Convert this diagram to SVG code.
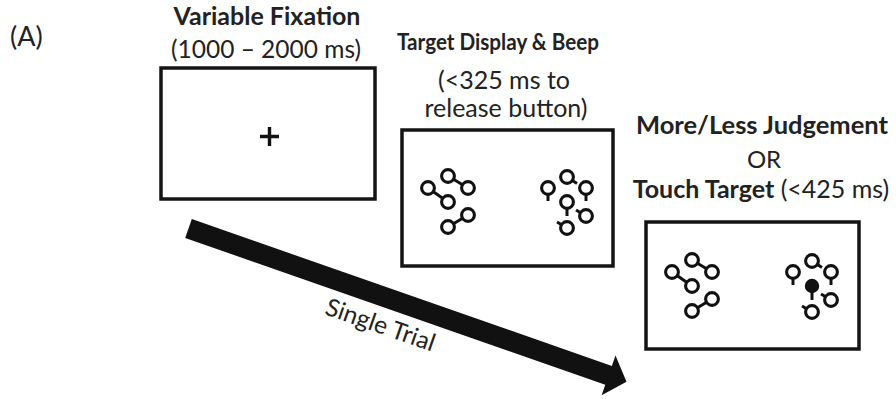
<svg xmlns="http://www.w3.org/2000/svg" xmlns:xlink="http://www.w3.org/1999/xlink" width="896" height="399" viewBox="0 0 896 399">
<style>
.box{fill:#fff;stroke:#141414;stroke-width:3.5}
.t{font-family:Lato,"Open Sans","Liberation Sans",sans-serif;font-size:25px;fill:#222;text-anchor:middle}
.b{font-weight:bold}
.c{fill:#fff;stroke:#111;stroke-width:3.1}
.l{stroke:#111;stroke-width:3;fill:none}
</style>
<defs>
<g id="leftCluster">
<line class="l" x1="-20" y1="12" x2="0" y2="26"/>
<line class="l" x1="0" y1="0" x2="20" y2="12"/>
<line class="l" x1="20" y1="39" x2="0" y2="51"/>
<circle class="c" cx="-20" cy="12" r="6.4"/>
<circle class="c" cx="0" cy="0" r="6.4"/>
<circle class="c" cx="20" cy="12" r="6.4"/>
<circle class="c" cx="0" cy="26" r="6.4"/>
<circle class="c" cx="20" cy="39" r="6.4"/>
<circle class="c" cx="0" cy="51" r="6.4"/>
</g>
<g id="rightStems">
<line class="l" x1="-19" y1="11" x2="-19" y2="24"/>
<line class="l" x1="0" y1="0" x2="10" y2="6.5"/>
<line class="l" x1="19" y1="11" x2="19" y2="24"/>
<line class="l" x1="0" y1="25" x2="0" y2="39"/>
<line class="l" x1="19" y1="39" x2="9" y2="33"/>
<line class="l" x1="0" y1="51" x2="-10" y2="45"/>
<circle class="c" cx="-19" cy="11" r="6.4"/>
<circle class="c" cx="0" cy="0" r="6.4"/>
<circle class="c" cx="19" cy="11" r="6.4"/>
<circle class="c" cx="19" cy="39" r="6.4"/>
<circle class="c" cx="0" cy="51" r="6.4"/>
</g>
</defs>

<text class="t" x="10" y="46" style="text-anchor:start;font-size:27px">(A)</text>

<g id="fixation">
<text class="t b" x="267" y="25">Variable Fixation</text>
<text class="t" x="266" y="58" style="font-size:24.5px">(1000 – 2000 ms)</text>
<rect class="box" x="161" y="68" width="214" height="131"/>
<path d="M260 136.5H279M269.5 127V146" stroke="#111" stroke-width="3.4" fill="none"/>
</g>

<g id="target-display">
<text class="t b" x="498" y="50" style="font-size:23.5px" textLength="202" lengthAdjust="spacingAndGlyphs">Target Display &amp; Beep</text>
<text class="t" x="504" y="89">(&lt;325 ms to</text>
<text class="t" x="506" y="117">release button)</text>
<rect class="box" x="402" y="130" width="211" height="136"/>
<use xlink:href="#leftCluster" x="448" y="176"/>
<use xlink:href="#rightStems" x="567" y="177"/>
<circle class="c" cx="567" cy="202" r="6.4"/>
</g>

<g id="judgement">
<text class="t b" x="762" y="134" style="font-size:25.5px">More/Less Judgement</text>
<text class="t" x="764" y="168" style="font-size:24px">OR</text>
<text class="t" x="761" y="198"><tspan font-weight="bold">Touch Target</tspan> (&lt;425 ms)</text>
<rect class="box" x="646" y="222" width="213" height="127"/>
<use xlink:href="#leftCluster" x="692" y="260"/>
<use xlink:href="#rightStems" x="812" y="261"/>
<circle cx="812" cy="286" r="7.2" fill="#111"/>
</g>

<g id="connectors">
<g transform="translate(188.5,228.5) rotate(19.27)">
<polygon points="0,-10 445,-10 445,-21 464,0 445,21 445,10 0,10" fill="#111"/>
<text class="t" x="213" y="36" style="font-size:24.5px">Single Trial</text>
</g>
</g>
</svg>
